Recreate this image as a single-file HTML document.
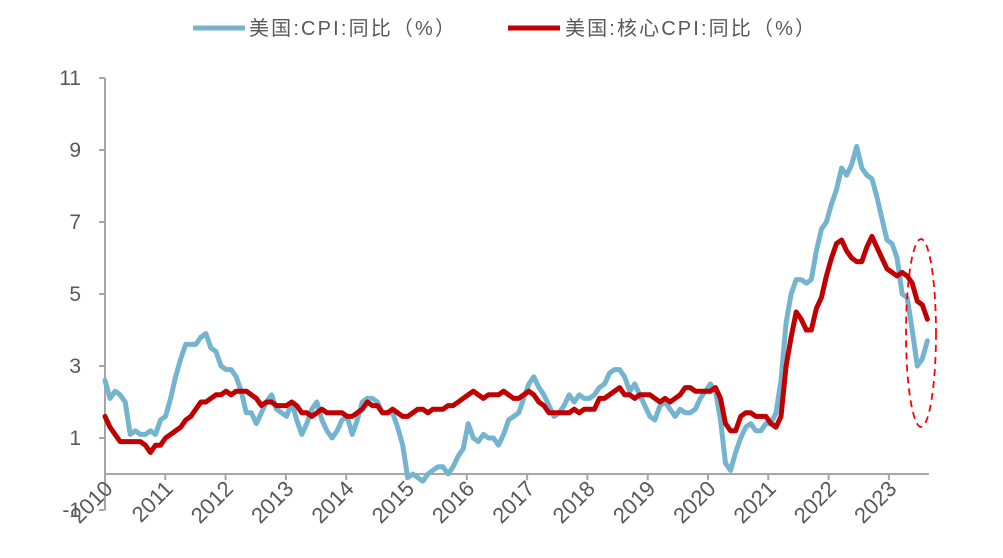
<!DOCTYPE html>
<html><head><meta charset="utf-8"><style>
body{margin:0;background:#fff;}
svg text{font-family:"Liberation Sans","Noto Sans CJK SC",sans-serif;fill:#595959;}
</style></head><body>
<svg id="s" width="1003" height="553" xmlns="http://www.w3.org/2000/svg">
<line x1="193" y1="28" x2="245" y2="28" stroke="#74b4cf" stroke-width="5"/>
<text x="249" y="35" font-size="20" textLength="206" lengthAdjust="spacing">美国:CPI:同比（%）</text>
<line x1="508" y1="28" x2="560" y2="28" stroke="#c00000" stroke-width="5"/>
<text x="565" y="35" font-size="20" textLength="250" lengthAdjust="spacing">美国:核心CPI:同比（%）</text>
<g id="ax" stroke="#a6a6a6" stroke-width="2"></g>
<g id="lb" font-size="21"></g>
<g id="lx" font-size="22"></g>
<polyline id="cpi" fill="none" stroke="#74b4cf" stroke-width="5" stroke-linejoin="round" stroke-linecap="round"/>
<polyline id="core" fill="none" stroke="#c00000" stroke-width="5" stroke-linejoin="round" stroke-linecap="round"/>
<ellipse cx="921" cy="333" rx="15" ry="94" fill="none" stroke="#ff0000" stroke-width="1.8" stroke-dasharray="7,5"/>
</svg>
<script>
var cpi=[2.6,2.1,2.3,2.2,2.0,1.1,1.2,1.1,1.1,1.2,1.1,1.5,1.6,2.1,2.7,3.2,3.6,3.6,3.6,3.8,3.9,3.5,3.4,3.0,2.9,2.9,2.7,2.3,1.7,1.7,1.4,1.7,2.0,2.2,1.8,1.7,1.6,2.0,1.5,1.1,1.4,1.8,2.0,1.5,1.2,1.0,1.2,1.5,1.6,1.1,1.5,2.0,2.1,2.1,2.0,1.7,1.7,1.7,1.3,0.8,-0.1,0.0,-0.1,-0.2,0.0,0.1,0.2,0.2,0.0,0.2,0.5,0.7,1.4,1.0,0.9,1.1,1.0,1.0,0.8,1.1,1.5,1.6,1.7,2.1,2.5,2.7,2.4,2.2,1.9,1.6,1.7,1.9,2.2,2.0,2.2,2.1,2.1,2.2,2.4,2.5,2.8,2.9,2.9,2.7,2.3,2.5,2.2,1.9,1.6,1.5,1.9,2.0,1.8,1.6,1.8,1.7,1.7,1.8,2.1,2.3,2.5,2.3,1.5,0.3,0.1,0.6,1.0,1.3,1.4,1.2,1.2,1.4,1.4,1.7,2.6,4.2,5.0,5.4,5.4,5.3,5.4,6.2,6.8,7.0,7.5,7.9,8.5,8.3,8.6,9.1,8.5,8.3,8.2,7.7,7.1,6.5,6.4,6.0,5.0,4.9,4.0,3.0,3.2,3.7];
var core=[1.6,1.3,1.1,0.9,0.9,0.9,0.9,0.9,0.8,0.6,0.8,0.8,1.0,1.1,1.2,1.3,1.5,1.6,1.8,2.0,2.0,2.1,2.2,2.2,2.3,2.2,2.3,2.3,2.3,2.2,2.1,1.9,2.0,2.0,1.9,1.9,1.9,2.0,1.9,1.7,1.7,1.6,1.7,1.8,1.7,1.7,1.7,1.7,1.6,1.6,1.7,1.8,2.0,1.9,1.9,1.7,1.7,1.8,1.7,1.6,1.6,1.7,1.8,1.8,1.7,1.8,1.8,1.8,1.9,1.9,2.0,2.1,2.2,2.3,2.2,2.1,2.2,2.2,2.2,2.3,2.2,2.1,2.1,2.2,2.3,2.2,2.0,1.9,1.7,1.7,1.7,1.7,1.7,1.8,1.7,1.8,1.8,1.8,2.1,2.1,2.2,2.3,2.4,2.2,2.2,2.1,2.2,2.2,2.2,2.1,2.0,2.1,2.0,2.1,2.2,2.4,2.4,2.3,2.3,2.3,2.3,2.4,2.1,1.4,1.2,1.2,1.6,1.7,1.7,1.6,1.6,1.6,1.4,1.3,1.6,3.0,3.8,4.5,4.3,4.0,4.0,4.6,4.9,5.5,6.0,6.4,6.5,6.2,6.0,5.9,5.9,6.3,6.6,6.3,6.0,5.7,5.6,5.5,5.6,5.5,5.3,4.8,4.7,4.3];
var X0=105,DX=60.3,Y0=474,DY=36;
function pts(a){return a.map(function(v,i){return (X0+DX*i/12*1.004).toFixed(1)+","+(Y0-v*DY).toFixed(1)}).join(" ");}
document.getElementById("cpi").setAttribute("points",pts(cpi));
document.getElementById("core").setAttribute("points",pts(core));
var ns="http://www.w3.org/2000/svg",ax=document.getElementById("ax"),lb=document.getElementById("lb"),lx=document.getElementById("lx");
function el(p,t,a,txt){var e=document.createElementNS(ns,t);for(var k in a)e.setAttribute(k,a[k]);if(txt!=null)e.textContent=txt;p.appendChild(e);return e;}
el(ax,"line",{x1:105,y1:78,x2:105,y2:510});
el(ax,"line",{x1:105,y1:474,x2:929,y2:474});
for(var v=-1;v<=11;v+=2){var y=Y0-v*DY;el(ax,"line",{x1:99,y1:y,x2:105,y2:y});el(lb,"text",{x:81,y:y+7,"text-anchor":"end"},String(v));}
for(var k=0;k<=13;k++){var x=X0+DX*k;el(ax,"line",{x1:x,y1:474,x2:x,y2:480});el(lx,"text",{x:x+9,y:490,"text-anchor":"end",transform:"rotate(-45 "+(x+9)+" 490)"},String(2010+k));}
</script>
</body></html>
